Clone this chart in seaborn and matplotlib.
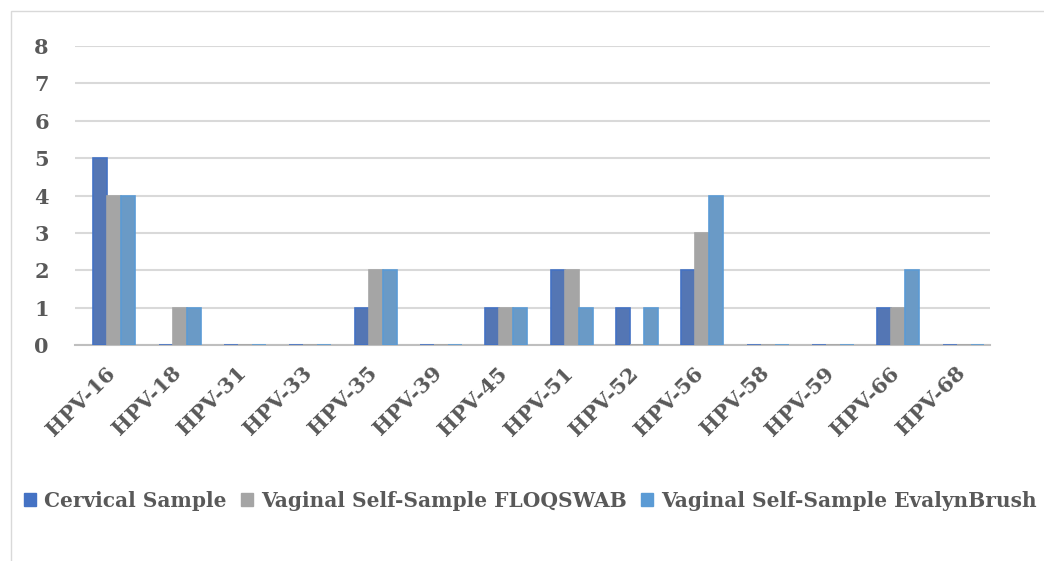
import matplotlib
matplotlib.use("Agg")
import matplotlib.pyplot as plt
import matplotlib.transforms as mtransforms
import pandas as pd
import seaborn as sns
from matplotlib.patches import Rectangle, Patch

# data
hpv_types = ['HPV-16', 'HPV-18', 'HPV-31', 'HPV-33', 'HPV-35', 'HPV-39', 'HPV-45',
             'HPV-51', 'HPV-52', 'HPV-56', 'HPV-58', 'HPV-59', 'HPV-66', 'HPV-68']
cervical = [5, 0, 0, 0, 1, 0, 1, 2, 1, 2, 0, 0, 1, 0]
floqswab = [4, 1, 0, 0, 2, 0, 1, 2, 0, 3, 0, 0, 1, 0]
evalyn = [4, 1, 0, 0, 2, 0, 1, 1, 1, 4, 0, 0, 2, 0]
series_names = ['Cervical Sample', 'Vaginal Self-Sample FLOQSWAB',
                'Vaginal Self-Sample EvalynBrush']
colors = ['#4472C4', '#A5A5A5', '#5B9BD5']

df = pd.DataFrame({'HPV': hpv_types * 3,
                   'Count': cervical + floqswab + evalyn,
                   'Sample': [s for s in series_names for _ in hpv_types]})

sns.set_style('white')
plt.rcParams['font.family'] = ['DejaVu Serif']
txt = '#595959'

fig = plt.figure(figsize=(10.44, 5.61), dpi=100)
ax = fig.add_axes([0.072, 0.385, 0.876, 0.533])

sns.barplot(data=df, x='HPV', y='Count', hue='Sample', palette=colors,
            width=0.64, gap=0, ax=ax, legend=False, zorder=3)
for p, c in zip(ax.patches, [c for c in colors for _ in hpv_types]):
    p.set_edgecolor(c)
    p.set_linewidth(1.2)

ax.set_ylim(0, 8)
ax.set_xlim(-0.6, 13.4)
ax.set_yticks(range(0, 9))
ax.yaxis.grid(True, color='#D9D9D9', linewidth=1.5, zorder=0)
ax.set_axisbelow(True)
for s in ['top', 'right', 'left']:
    ax.spines[s].set_visible(False)
ax.spines['bottom'].set_color('#BFBFBF')
ax.spines['bottom'].set_linewidth(1.5)
ax.tick_params(axis='both', length=0, colors=txt)
ax.tick_params(axis='y', pad=19, labelsize=15)
for lab in ax.get_yticklabels():
    lab.set_fontweight('bold')
plt.setp(ax.get_xticklabels(), rotation=45, ha='right', rotation_mode='anchor',
         fontweight='bold', fontsize=15)
ax.tick_params(axis='x', pad=10)
shift = mtransforms.ScaledTranslation(-9 / 100, -4 / 100, fig.dpi_scale_trans)
for lab in ax.get_xticklabels():
    lab.set_transform(lab.get_transform() + shift)
ax.set_xlabel('')
ax.set_ylabel('')

handles = [Patch(facecolor=c, edgecolor=c) for c in colors]
fig.legend(handles, series_names, loc='center', bbox_to_anchor=(0.508, 0.107),
           ncol=3, frameon=False, handlelength=0.6, handleheight=0.6,
           handletextpad=0.4, columnspacing=0.7, labelcolor=txt,
           prop={'weight': 'bold', 'size': 14.5})

fig.patches.append(Rectangle((0.011, -0.1), 1.2, 1.08, transform=fig.transFigure,
                             fill=False, edgecolor='#D9D9D9', linewidth=1))

fig.savefig('out.png', dpi=100)
